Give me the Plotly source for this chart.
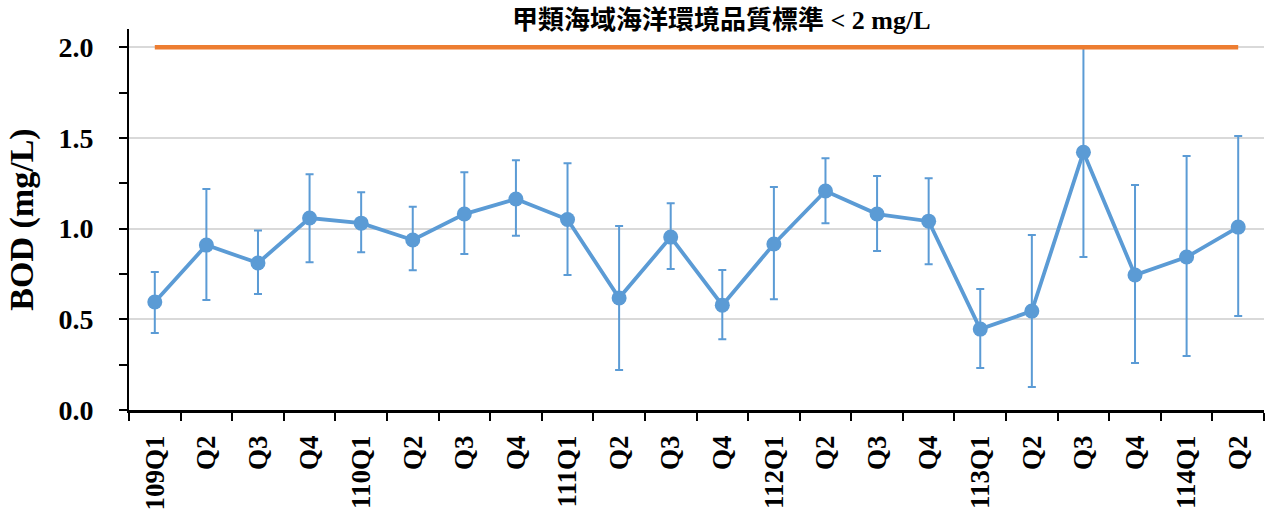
import plotly.graph_objects as go

periods = ["109Q1", "109Q2", "109Q3", "109Q4", "110Q1", "110Q2", "110Q3", "110Q4",
           "111Q1", "111Q2", "111Q3", "111Q4", "112Q1", "112Q2", "112Q3", "112Q4",
           "113Q1", "113Q2", "113Q3", "113Q4", "114Q1", "114Q2"]
tick_labels = ["109Q1", "Q2", "Q3", "Q4", "110Q1", "Q2", "Q3", "Q4",
               "111Q1", "Q2", "Q3", "Q4", "112Q1", "Q2", "Q3", "Q4",
               "113Q1", "Q2", "Q3", "Q4", "114Q1", "Q2"]
bod_mean = [0.595, 0.909, 0.81, 1.058, 1.03, 0.937, 1.08, 1.163,
            1.05, 0.617, 0.953, 0.578, 0.915, 1.207, 1.08, 1.041,
            0.446, 0.545, 1.421, 0.744, 0.843, 1.008]
err_plus = [0.165, 0.309, 0.18, 0.242, 0.17, 0.183, 0.23, 0.214,
            0.31, 0.397, 0.187, 0.193, 0.314, 0.181, 0.21, 0.237,
            0.221, 0.419, 0.579, 0.496, 0.557, 0.502]
err_minus = [0.171, 0.303, 0.17, 0.243, 0.16, 0.167, 0.22, 0.203,
             0.306, 0.397, 0.176, 0.188, 0.305, 0.177, 0.204, 0.237,
             0.215, 0.418, 0.578, 0.485, 0.546, 0.49]
standard_value = 2.0
standard_label = "甲類海域海洋環境品質標準 < 2 mg/L"

blue = "#5B9BD5"
orange = "#ED7D31"
serif = "Liberation Serif, 'Times New Roman', 'Noto Sans CJK TC', serif"

fig = go.Figure()
fig.add_trace(go.Scatter(
    x=periods, y=bod_mean, mode="lines+markers",
    line=dict(color=blue, width=3.8),
    marker=dict(color=blue, size=15),
    error_y=dict(type="data", array=err_plus, arrayminus=err_minus, symmetric=False,
                 color=blue, thickness=2, width=4),
    showlegend=False))
fig.add_trace(go.Scatter(
    x=[periods[0], periods[-1]], y=[standard_value, standard_value],
    mode="lines", line=dict(color=orange, width=4.5), showlegend=False, hoverinfo="skip"))

fig.add_annotation(x=0.522, y=1.0, xref="paper", yref="paper", yanchor="middle", yshift=9,
                   text="<b>" + standard_label + "</b>", showarrow=False,
                   font=dict(family=serif, size=26, color="black"))

fig.update_layout(
    width=1268, height=512,
    margin=dict(l=129, r=4, t=29, b=102),
    plot_bgcolor="white", paper_bgcolor="white",
    font=dict(family=serif, color="black"),
)
fig.update_xaxes(
    type="category", categoryorder="array", categoryarray=periods, automargin=False,
    tickmode="array", tickvals=periods, ticktext=tick_labels,
    showline=True, linecolor="black", linewidth=2.5,
    ticks="outside", tickson="boundaries", ticklen=8, tickwidth=2, tickcolor="black",
    tickangle=-90, ticklabelstandoff=12,
    tickfont=dict(family=serif, size=27, color="black", weight="bold"),
    showgrid=False, range=[-0.5, len(periods) - 0.5])
fig.update_yaxes(
    range=[0, 2.1], dtick=0.5, tick0=0, tickformat=".1f", automargin=False,
    showline=True, linecolor="black", linewidth=2,
    ticks="outside", ticklen=8, tickwidth=2, tickcolor="black",
    minor=dict(dtick=0.25, ticks="outside", ticklen=8, tickwidth=2, tickcolor="black", showgrid=False),
    showgrid=True, gridcolor="#D9D9D9", gridwidth=1.5, zeroline=False,
    ticklabelstandoff=20,
    tickfont=dict(family=serif, size=28, color="black", weight="bold"),
    title=dict(text="<b>BOD (mg/L)</b>", font=dict(family=serif, size=34, color="black"), standoff=15))

fig.write_html("out.html", config={"displayModeBar": False},
               post_script="document.body.style.margin='0px';")
